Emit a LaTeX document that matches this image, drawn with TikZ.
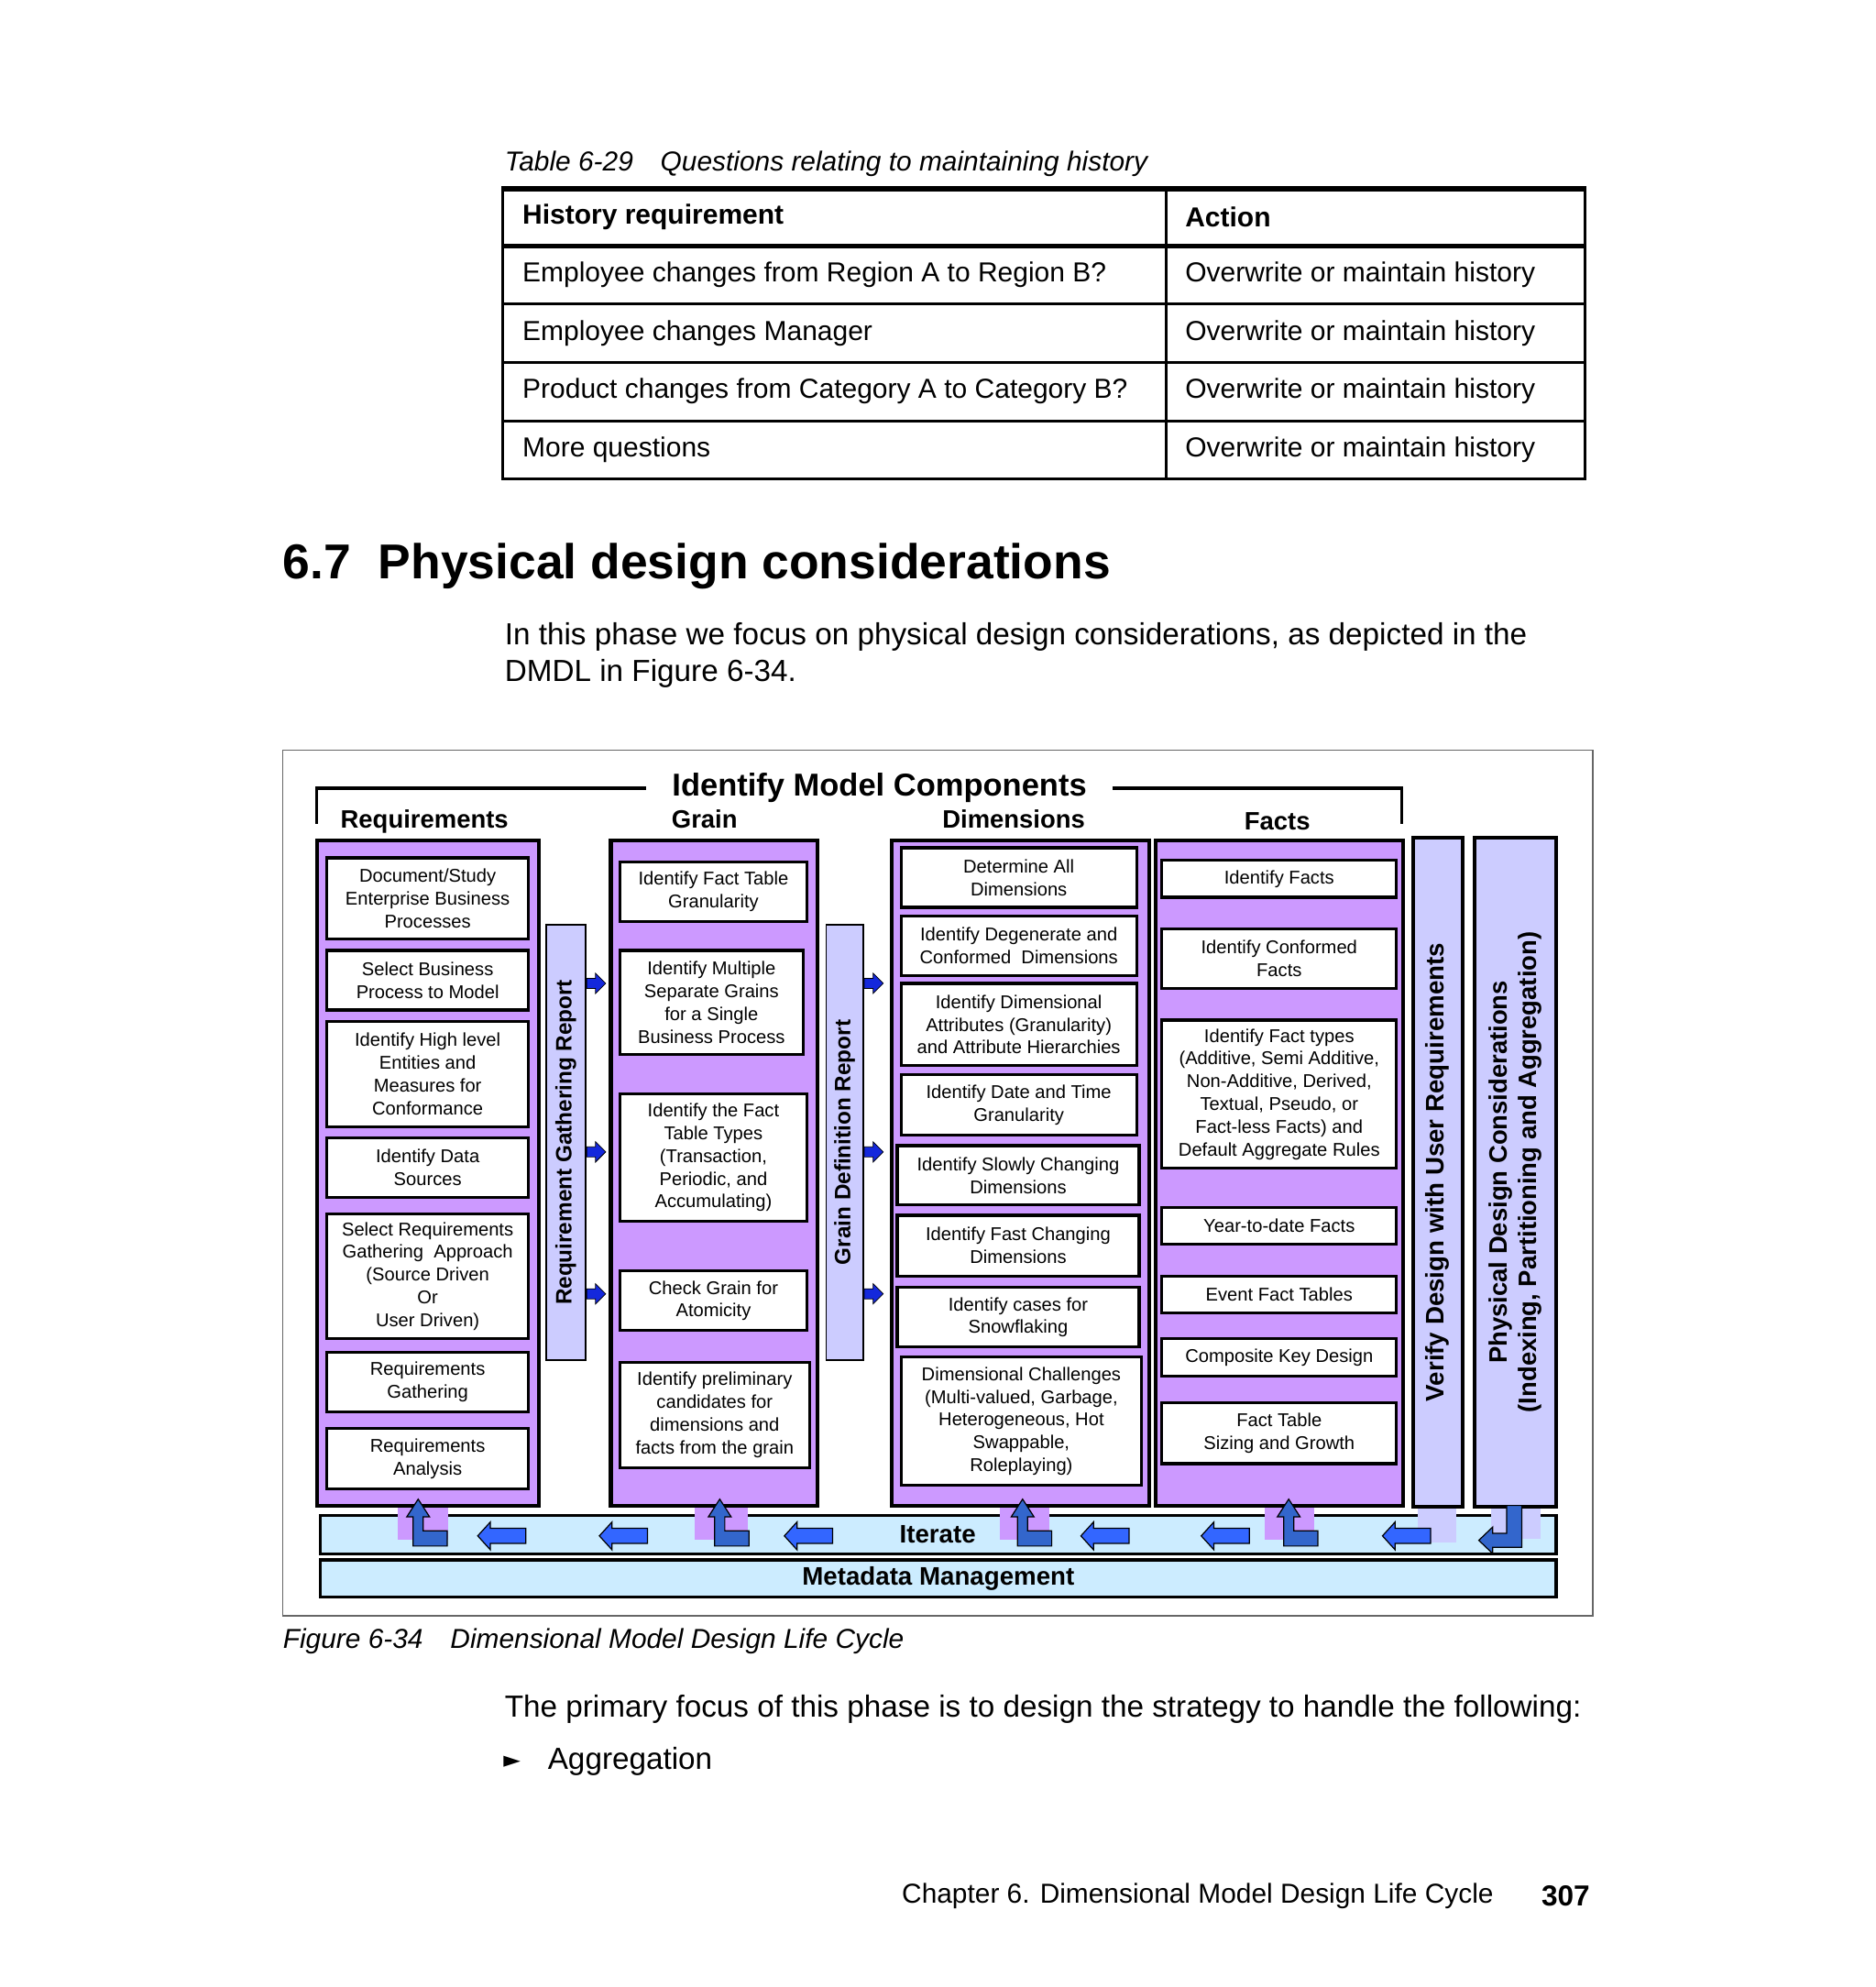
\documentclass[tikz,border=0pt]{standalone}
\usepackage{fontspec}
\setmainfont{Liberation Sans}
\newfontfamily\symfont{DejaVu Sans}
\usetikzlibrary{calc}
\definecolor{purp}{RGB}{204,153,255}
\definecolor{lav}{RGB}{204,204,255}
\definecolor{lblue}{RGB}{204,236,255}
\definecolor{elb}{RGB}{51,102,204}
\definecolor{larr}{RGB}{51,102,255}
\definecolor{rarr}{RGB}{20,40,220}
\tikzset{
  bx/.style={draw=black,line width=1.3pt,fill=white,inner sep=0pt,outer sep=0pt,align=center,font=\fontsize{8.3}{10.2}\selectfont},
  col/.style={draw=black,line width=1.7pt,fill=purp},
  vbar/.style={draw=black,line width=0.8pt,fill=lav,inner sep=0pt,outer sep=0pt},
  hbar/.style={draw=black,line width=1.3pt,fill=lblue,inner sep=0pt,outer sep=0pt},
  hdr/.style={font=\fontsize{11.3}{12}\selectfont\bfseries},
  tcell/.style={anchor=west,font=\fontsize{12.35}{14}\selectfont},
  elbarrow/.style={draw=black,line width=0.5pt,fill=elb},
  leftarrow/.style={draw=black,line width=0.5pt,fill=larr},
  rightarrow/.style={draw=black,line width=0.3pt,fill=rarr},
}
\newcommand\bx[6]{\node[bx,minimum width={(#3-#1)*0.02cm},minimum height={(#4-#2)*0.02cm}] (#6) at ({(#1+#3)/2},{(#2+#4)/2}) {#5};}
\newcommand\elbow[2]{\draw[elbarrow] (#1,#2) -- ++(27,0) -- ++(0,-12) -- ++(-19,0) -- ++(0,-11) -- ++(5,0) -- ++(-9,-14) -- ++(-9,14) -- ++(5,0) -- cycle;}
\newcommand\larrow[2]{\draw[leftarrow] (#1,#2) -- ++(10,-11) -- ++(0,5) -- ++(28,0) -- ++(0,12) -- ++(-28,0) -- ++(0,5) -- cycle;}
\newcommand\rarrow[2]{\draw[rightarrow] (#1,#2) ++(0,-4) -- ++(7,0) -- ++(0,-4) -- ++(8,8) -- ++(-8,8) -- ++(0,-4) -- ++(-7,0) -- cycle;}
\begin{document}
\begin{tikzpicture}[x=0.02cm,y=-0.02cm]
\useasboundingbox[fill=white] (0,0) rectangle (1480,1568);
% table
\node[anchor=west,inner sep=0pt,font=\fontsize{12.3}{14}\selectfont\itshape] (tcap) at (398,129) {Table 6-29\quad Questions relating to maintaining history};
\draw[line width=1.2pt] (397,148) rectangle (1251,378);
\draw[line width=2.4pt] (397,149) -- (1251,149);
\draw[line width=2pt] (397,194) -- (1251,194);
\foreach \y in {240,286,332} \draw[line width=1.2pt] (397,\y) -- (1251,\y);
\draw[line width=1.2pt] (920,148) -- (920,378);
\node[tcell,inner sep=0pt,font=\fontsize{12.35}{14}\selectfont\bfseries] (h1) at (412,171) {History requirement};
\node[tcell,inner sep=0pt,font=\fontsize{12.35}{14}\selectfont\bfseries] (h2) at (935,171) {Action};
\node[tcell,inner sep=0pt] (r1) at (412,217) {Employee changes from Region A to Region B?};
\node[tcell,inner sep=0pt] (r2) at (412,263) {Employee changes Manager};
\node[tcell,inner sep=0pt] (r3) at (412,309) {Product changes from Category A to Category B?};
\node[tcell,inner sep=0pt] (r4) at (412,355) {More questions};
\foreach \y/\n in {217/1,263/2,309/3,355/4} \node[tcell,inner sep=0pt] (a\n) at (935,\y) {Overwrite or maintain history};
% heading
\node[anchor=west,font=\fontsize{22}{26}\selectfont\bfseries,inner sep=0pt] (head) at (223,447) {6.7\ \ Physical design considerations};
\node[anchor=north west,align=left,font=\fontsize{13.7}{16.6}\selectfont,inner sep=0pt] (para) at (398,491) {In this phase we focus on physical design considerations, as depicted in the\\DMDL in Figure 6-34.};
% figure frame
\draw[line width=0.6pt,black!60] (223,592) rectangle (1257,1275);
% bracket
\coordinate (bl1) at (250,650); \coordinate (bl2) at (250,622); \coordinate (bl3) at (510,622);
\coordinate (br1) at (878,622); \coordinate (br2) at (1106,622); \coordinate (br3) at (1106,650);
\draw[line width=1.3pt] (bl1) -- (bl2) -- (bl3);
\draw[line width=1.3pt] (br1) -- (br2) -- (br3);
\node[font=\fontsize{14.2}{16}\selectfont\bfseries] (imc) at (694,622) {Identify Model Components};
\node[hdr] (hreq) at (335,648) {Requirements};
\node[hdr] (hgrain) at (556,646) {Grain};
\node[hdr] (hdim) at (800,646) {Dimensions};
\node[hdr] (hfact) at (1008,648) {Facts};
% connectors to iterate (behind)
\fill[purp] (314,1180) rectangle (354,1215);
\fill[purp] (548,1180) rectangle (590,1215);
\fill[purp] (789,1180) rectangle (828,1215);
\fill[purp] (998,1180) rectangle (1037,1215);
% bars
\node[hbar,minimum width={975*0.02cm},minimum height={30*0.02cm}] (iter) at (740.5,1211) {};
\node[hbar,minimum width={975*0.02cm},minimum height={29*0.02cm},font=\fontsize{11.4}{12}\selectfont\bfseries] (meta) at (740.5,1245.5) {Metadata Management};
\fill[purp] (314,1186) rectangle (354,1215);
\fill[purp] (548,1186) rectangle (590,1215);
\fill[purp] (789,1186) rectangle (828,1215);
\fill[purp] (998,1186) rectangle (1037,1215);
\fill[lav] (1119,1186) rectangle (1149,1217);
\fill[lav] (1177,1186) rectangle (1216,1214);
\node[font=\fontsize{11.4}{12}\selectfont\bfseries] (itxt) at (740,1211) {Iterate};
% columns
\draw[col] (250,663) rectangle (425,1188);
\draw[col] (482,663) rectangle (645,1188);
\draw[col] (704,663) rectangle (907,1188);
\draw[col] (912,663) rectangle (1107,1188);
\node[vbar,minimum width={31*0.02cm},minimum height={343*0.02cm}] (rgr) at (446.5,901.5) {};
\node[rotate=90,font=\fontsize{10}{12}\selectfont\bfseries] at (rgr) {Requirement Gathering Report};
\node[vbar,minimum width={29*0.02cm},minimum height={343*0.02cm}] (gdr) at (666.5,901.5) {};
\node[rotate=90,font=\fontsize{10}{12}\selectfont\bfseries] at (gdr) {Grain Definition Report};
\node[vbar,draw=black,line width=1.7pt,minimum width={39*0.02cm},minimum height={528*0.02cm}] (vdr) at (1134.5,925) {};
\node[rotate=90,font=\fontsize{11.4}{12}\selectfont\bfseries] at (vdr) {Verify Design with User Requirements};
\node[vbar,draw=black,line width=1.7pt,minimum width={64*0.02cm},minimum height={528*0.02cm}] (pdc) at (1196,925) {};
\node[rotate=90,align=center,font=\fontsize{11.3}{13.3}\selectfont\bfseries] at (pdc) {Physical Design Considerations\\(Indexing, Partitioning and Aggregation)};
% requirement boxes
\bx{258}{677}{417}{741}{Document/Study\\Enterprise Business\\Processes}{q1}
\bx{258}{750}{417}{797}{Select Business\\Process to Model}{q2}
\bx{258}{806}{417}{889}{Identify High level\\Entities and\\Measures for\\Conformance}{q3}
\bx{258}{898}{417}{945}{Identify Data\\Sources}{q4}
\bx{258}{958}{417}{1056}{Select Requirements\\Gathering\ \ Approach\\(Source Driven\\Or\\User Driven)}{q5}
\bx{258}{1067}{417}{1114}{Requirements\\Gathering}{q6}
\bx{258}{1127}{417}{1175}{Requirements\\Analysis}{q7}
% grain boxes
\bx{489}{680}{637}{727}{Identify Fact Table\\Granularity}{g1}
\bx{489}{750}{634}{832}{Identify Multiple\\Separate Grains\\for a Single\\Business Process}{g2}
\bx{489}{863}{637}{964}{Identify the Fact\\Table Types\\(Transaction,\\Periodic, and\\Accumulating)}{g3}
\bx{489}{1003}{637}{1050}{Check Grain for\\Atomicity}{g4}
\bx{489}{1075}{639}{1158}{Identify preliminary\\candidates for\\dimensions and\\facts from the grain}{g5}
% dimension boxes
\bx{711}{669}{897}{716}{Determine All\\Dimensions}{d1}
\bx{711}{723}{897}{770}{Identify Degenerate and\\Conformed\ \ Dimensions}{d2}
\bx{711}{776}{897}{841}{Identify Dimensional\\Attributes (Granularity)\\and Attribute Hierarchies}{d3}
\bx{711}{848}{897}{896}{Identify Date and Time\\Granularity}{d4}
\bx{708}{904}{899}{951}{Identify Slowly Changing\\Dimensions}{d5}
\bx{708}{959}{899}{1007}{Identify Fast Changing\\Dimensions}{d6}
\bx{708}{1016}{899}{1063}{Identify cases for\\Snowflaking}{d7}
\bx{711}{1071}{901}{1172}{Dimensional Challenges\\(Multi-valued, Garbage,\\Heterogeneous, Hot\\Swappable,\\Roleplaying)}{d8}
% fact boxes
\bx{917}{679}{1102}{708}{Identify Facts}{f1}
\bx{917}{733}{1102}{780}{Identify Conformed\\Facts}{f2}
\bx{917}{805}{1102}{922}{Identify Fact types\\(Additive, Semi Additive,\\Non-Additive, Derived,\\Textual, Pseudo, or\\Fact-less Facts) and\\Default Aggregate Rules}{f3}
\bx{917}{953}{1102}{982}{Year-to-date Facts}{f4}
\bx{917}{1007}{1102}{1036}{Event Fact Tables}{f5}
\bx{917}{1056}{1102}{1086}{Composite Key Design}{f6}
\bx{917}{1107}{1102}{1155}{Fact Table\\Sizing and Growth}{f7}
% small right arrows
\foreach \y in {776,909,1021} { \rarrow{463}{\y} \rarrow{682}{\y} }
% bottom arrows
\elbow{326}{1220} \elbow{564}{1220} \elbow{803}{1220} \elbow{1013}{1220}
\foreach \x in {377,473,619,853,948,1091} { \larrow{\x}{1212} }
\draw[elbarrow] (1189,1188) -- (1201,1188) -- (1201,1221) -- (1178,1221) -- (1178,1226) -- (1167,1215.5) -- (1178,1205) -- (1178,1210) -- (1189,1210) -- cycle;
% caption and text
\node[anchor=west,inner sep=0pt,font=\fontsize{12.3}{14}\selectfont\itshape] (fcap) at (223,1295) {Figure 6-34\quad Dimensional Model Design Life Cycle};
\node[anchor=west,font=\fontsize{13.7}{16}\selectfont,inner sep=0pt] (p2) at (398,1349) {The primary focus of this phase is to design the strategy to handle the following:};
\node[font=\fontsize{10}{12}\selectfont\symfont] (bul) at (404,1390) {►};
\node[anchor=west,font=\fontsize{13.7}{16}\selectfont,inner sep=0pt] (agg) at (432,1390) {Aggregation};
\node[anchor=east,font=\fontsize{12.3}{14}\selectfont,inner sep=0pt] (foot) at (1179,1496) {Chapter 6. Dimensional Model Design Life Cycle};
\node[anchor=east,font=\fontsize{13}{14}\selectfont\bfseries,inner sep=0pt] (pg) at (1255,1496) {307};
\end{tikzpicture}
\end{document}
